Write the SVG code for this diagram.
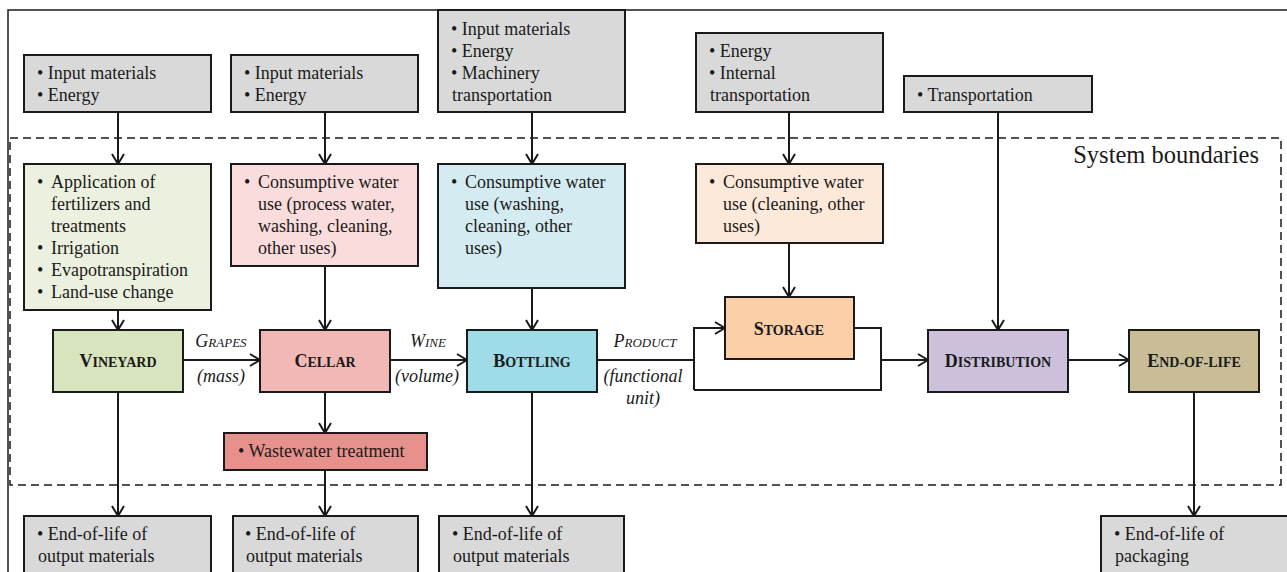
<svg xmlns="http://www.w3.org/2000/svg" width="1287" height="572" viewBox="0 0 1287 572">
<style>
text{font-family:"Liberation Serif","Times New Roman",serif;fill:#1a1a1a}
.t{font-size:18px}
.box{stroke:#1a1a1a;stroke-width:2}
.gray{fill:#d9d9d9}
.node{font-size:14px;font-weight:bold;text-anchor:middle}
.cap{font-size:18px}
.lbl{font-size:13px;font-style:italic;text-anchor:middle}
.lbl2{font-size:18px;font-style:italic;text-anchor:middle}
.ln{fill:none;stroke:#1a1a1a;stroke-width:2}
</style>
<defs>
<marker id="ah" viewBox="0 0 12 14" refX="11" refY="7" markerWidth="12" markerHeight="14" markerUnits="userSpaceOnUse" orient="auto">
<polyline points="1,1 11,7 1,13" fill="none" stroke="#1a1a1a" stroke-width="2"/>
</marker>
</defs>
<rect width="1287" height="572" fill="#ffffff"/>
<polyline points="8,572 8,10 1287,10" fill="none" stroke="#1a1a1a" stroke-width="1.5"/>
<rect x="10" y="138" width="1271" height="347" fill="none" stroke="#1a1a1a" stroke-width="1.5" stroke-dasharray="8,5"/>
<text x="1259" y="163" style="font-size:24.5px" text-anchor="end">System boundaries</text>

<g id="connectors">
<line class="ln" x1="118" y1="112" x2="118" y2="164" marker-end="url(#ah)"/>
<line class="ln" x1="325" y1="112" x2="325" y2="164" marker-end="url(#ah)"/>
<line class="ln" x1="532" y1="112" x2="532" y2="164" marker-end="url(#ah)"/>
<line class="ln" x1="789" y1="112" x2="789" y2="164" marker-end="url(#ah)"/>
<line class="ln" x1="998" y1="112" x2="998" y2="330" marker-end="url(#ah)"/>
<line class="ln" x1="118" y1="310" x2="118" y2="330" marker-end="url(#ah)"/>
<line class="ln" x1="325" y1="266" x2="325" y2="330" marker-end="url(#ah)"/>
<line class="ln" x1="532" y1="288" x2="532" y2="330" marker-end="url(#ah)"/>
<line class="ln" x1="789" y1="243" x2="789" y2="297" marker-end="url(#ah)"/>
<line class="ln" x1="183" y1="360" x2="260" y2="360" marker-end="url(#ah)"/>
<line class="ln" x1="390" y1="360" x2="467" y2="360" marker-end="url(#ah)"/>
<polyline class="ln" points="597,360 694,360"/>
<polyline class="ln" points="694,390 694,328 725,328" marker-end="url(#ah)"/>
<polyline class="ln" points="854,328 881,328 881,390 694,390"/>
<line class="ln" x1="881" y1="360" x2="928" y2="360" marker-end="url(#ah)"/>
<line class="ln" x1="1068" y1="360" x2="1129" y2="360" marker-end="url(#ah)"/>
<line class="ln" x1="118" y1="392" x2="118" y2="516" marker-end="url(#ah)"/>
<line class="ln" x1="325" y1="392" x2="325" y2="433" marker-end="url(#ah)"/>
<line class="ln" x1="325" y1="470" x2="325" y2="516" marker-end="url(#ah)"/>
<line class="ln" x1="532" y1="392" x2="532" y2="516" marker-end="url(#ah)"/>
<line class="ln" x1="1194" y1="392" x2="1194" y2="516" marker-end="url(#ah)"/>
</g>

<g id="in-vineyard">
<rect class="box gray" x="24" y="55" width="187" height="57"/>
<text class="t" x="37" y="79">• Input materials</text>
<text class="t" x="37" y="101">• Energy</text>
</g>
<g id="in-cellar">
<rect class="box gray" x="231" y="55" width="187" height="57"/>
<text class="t" x="244" y="79">• Input materials</text>
<text class="t" x="244" y="101">• Energy</text>
</g>
<g id="in-bottling">
<rect class="box gray" x="438" y="10" width="187" height="102"/>
<text class="t" x="451" y="35">• Input materials</text>
<text class="t" x="451" y="57">• Energy</text>
<text class="t" x="451" y="79">• Machinery</text>
<text class="t" x="452" y="101">transportation</text>
</g>
<g id="in-storage">
<rect class="box gray" x="696" y="33" width="187" height="79"/>
<text class="t" x="709" y="57">• Energy</text>
<text class="t" x="709" y="79">• Internal</text>
<text class="t" x="710" y="101">transportation</text>
</g>
<g id="in-distribution">
<rect class="box gray" x="904" y="76" width="188" height="36"/>
<text class="t" x="917" y="101">• Transportation</text>
</g>

<g id="water-vineyard">
<rect class="box" x="24" y="164" width="187" height="146" fill="#ebf1de"/>
<text class="t" x="37" y="188">•</text>
<text class="t" x="51" y="188">Application of</text>
<text class="t" x="51" y="210">fertilizers and</text>
<text class="t" x="51" y="232">treatments</text>
<text class="t" x="37" y="254">•</text>
<text class="t" x="51" y="254">Irrigation</text>
<text class="t" x="37" y="276">•</text>
<text class="t" x="51" y="276">Evapotranspiration</text>
<text class="t" x="37" y="298">•</text>
<text class="t" x="51" y="298">Land-use change</text>
</g>
<g id="water-cellar">
<rect class="box" x="231" y="164" width="187" height="102" fill="#f9dcdb"/>
<text class="t" x="244" y="188">•</text>
<text class="t" x="258" y="188">Consumptive water</text>
<text class="t" x="258" y="210">use (process water,</text>
<text class="t" x="258" y="232">washing, cleaning,</text>
<text class="t" x="258" y="254">other uses)</text>
</g>
<g id="water-bottling">
<rect class="box" x="438" y="164" width="187" height="124" fill="#d3ebf1"/>
<text class="t" x="451" y="188">•</text>
<text class="t" x="465" y="188">Consumptive water</text>
<text class="t" x="465" y="210">use (washing,</text>
<text class="t" x="465" y="232">cleaning, other</text>
<text class="t" x="465" y="254">uses)</text>
</g>
<g id="water-storage">
<rect class="box" x="696" y="164" width="187" height="79" fill="#fde9d9"/>
<text class="t" x="709" y="188">•</text>
<text class="t" x="723" y="188">Consumptive water</text>
<text class="t" x="723" y="210">use (cleaning, other</text>
<text class="t" x="723" y="232">uses)</text>
</g>

<g id="vineyard">
<rect class="box" x="53" y="330" width="130" height="62" fill="#d7e4bd"/>
<text class="node" x="118" y="367"><tspan class="cap">V</tspan>INEYARD</text>
</g>
<g id="cellar">
<rect class="box" x="260" y="330" width="130" height="62" fill="#f2b8b6"/>
<text class="node" x="325" y="367"><tspan class="cap">C</tspan>ELLAR</text>
</g>
<g id="bottling">
<rect class="box" x="467" y="330" width="130" height="62" fill="#a0dbe8"/>
<text class="node" x="532" y="367"><tspan class="cap">B</tspan>OTTLING</text>
</g>
<g id="storage">
<rect class="box" x="725" y="297" width="129" height="62" fill="#fbcfa8"/>
<text class="node" x="789" y="335"><tspan class="cap">S</tspan>TORAGE</text>
</g>
<g id="distribution">
<rect class="box" x="928" y="330" width="140" height="62" fill="#ccc0da"/>
<text class="node" x="998" y="367"><tspan class="cap">D</tspan>ISTRIBUTION</text>
</g>
<g id="end-of-life">
<rect class="box" x="1129" y="330" width="130" height="62" fill="#c8bd97"/>
<text class="node" x="1194" y="367"><tspan class="cap">E</tspan>ND-OF-LIFE</text>
</g>

<g id="edge-labels">
<text class="lbl" x="221" y="347"><tspan class="cap">G</tspan>RAPES</text>
<text class="lbl2" x="221" y="382">(mass)</text>
<text class="lbl" x="428" y="347"><tspan class="cap">W</tspan>INE</text>
<text class="lbl2" x="427" y="382">(volume)</text>
<text class="lbl" x="645" y="347"><tspan class="cap">P</tspan>RODUCT</text>
<text class="lbl2" x="643" y="382">(functional</text>
<text class="lbl2" x="643" y="404">unit)</text>
</g>

<g id="wastewater">
<rect class="box" x="224" y="433" width="203" height="37" fill="#e8908c"/>
<text class="t" x="238" y="457">• Wastewater treatment</text>
</g>

<g id="out-vineyard">
<rect class="box gray" x="24" y="516" width="187" height="62"/>
<text class="t" x="37" y="540">• End-of-life of</text>
<text class="t" x="38" y="562">output materials</text>
</g>
<g id="out-cellar">
<rect class="box gray" x="233" y="516" width="185" height="62"/>
<text class="t" x="245" y="540">• End-of-life of</text>
<text class="t" x="246" y="562">output materials</text>
</g>
<g id="out-bottling">
<rect class="box gray" x="439" y="516" width="185" height="62"/>
<text class="t" x="452" y="540">•  End-of-life of</text>
<text class="t" x="453" y="562">output materials</text>
</g>
<g id="out-packaging">
<rect class="box gray" x="1101" y="516" width="190" height="62"/>
<text class="t" x="1114" y="540">• End-of-life of</text>
<text class="t" x="1115" y="562">packaging</text>
</g>
</svg>
